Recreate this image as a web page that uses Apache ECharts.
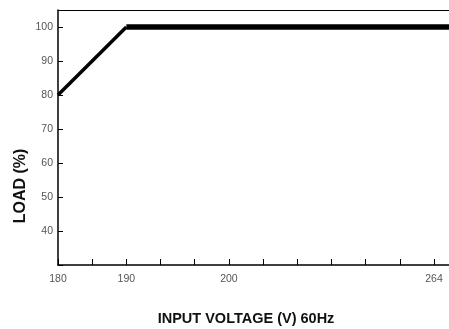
<!DOCTYPE html>
<html>
<head>
<meta charset="utf-8">
<script src="https://cdn.jsdelivr.net/npm/echarts@6/dist/echarts.min.js"></script>
<style>html,body{margin:0;padding:0;background:#fff}#c{width:449px;height:329px}</style>
</head>
<body>
<div id="c"></div>
<script>
// Tick positions along the x axis (evenly spaced, non-linear voltage labels)
const xTickIndex = [0, 2, 5, 11];
const xTickText = ['180', '190', '200', '264'];
// Derating curve: x = tick index, y = load %
const rampX = [0, 2];
const rampY = [80, 100];
const flatX = [2, 12];
const flatY = [100, 100];
const yTicks = [40, 50, 60, 70, 80, 90, 100];

const chart = echarts.init(document.getElementById('c'));
const labelFont = { fontFamily: 'Liberation Sans, Arial, sans-serif', fontSize: 10.5, color: '#555' };
chart.setOption({
  animation: false,
  grid: { left: 58, top: 10, right: 0, bottom: 64, containLabel: false },
  xAxis: [{
    type: 'value', min: 0, max: 11.44, interval: 1,
    axisLine: { show: true, lineStyle: { color: '#000', width: 1.5 } },
    axisTick: { show: true, inside: true, length: 6, lineStyle: { color: '#000', width: 1 } },
    splitLine: { show: false },
    axisLabel: Object.assign({
      margin: 9, showMaxLabel: false,
      formatter: v => { const i = xTickIndex.indexOf(Math.round(v)); return i >= 0 && Math.abs(v - Math.round(v)) < 1e-6 ? xTickText[i] : ''; }
    }, labelFont)
  }, {
    type: 'value', position: 'top', min: 0, max: 11.44,
    axisLine: { show: true, onZero: false, lineStyle: { color: '#000', width: 1.2 } },
    axisTick: { show: false }, axisLabel: { show: false }, splitLine: { show: false }
  }],
  yAxis: {
    type: 'value', min: 30, max: 105, interval: 10,
    axisLine: { show: true, lineStyle: { color: '#000', width: 1.5 } },
    axisTick: { show: true, inside: true, length: 5, lineStyle: { color: '#000', width: 1 } },
    splitLine: { show: false },
    axisLabel: Object.assign({
      margin: 5, showMaxLabel: false,
      formatter: v => yTicks.indexOf(v) >= 0 ? String(v) : ''
    }, labelFont)
  },
  graphic: [{
    type: 'text', rotation: Math.PI / 2, x: 21, y: 186,
    style: { text: 'LOAD (%)', fontFamily: 'Liberation Sans, Arial, sans-serif', fontWeight: 'bold', fontSize: 16, fill: '#111', textAlign: 'center', textVerticalAlign: 'middle' }
  }, {
    type: 'text', x: 246, y: 319,
    style: { text: 'INPUT VOLTAGE (V) 60Hz', fontFamily: 'Liberation Sans, Arial, sans-serif', fontWeight: 'bold', fontSize: 14.5, fill: '#111', textAlign: 'center', textVerticalAlign: 'middle' }
  }],
  series: [{
    type: 'line', data: rampX.map((x, i) => [x, rampY[i]]), showSymbol: false, clip: true,
    lineStyle: { color: '#000', width: 3.5 }
  }, {
    type: 'line', data: flatX.map((x, i) => [x, flatY[i]]), showSymbol: false, clip: true,
    lineStyle: { color: '#000', width: 5.5 }
  }]
});
</script>
</body>
</html>
